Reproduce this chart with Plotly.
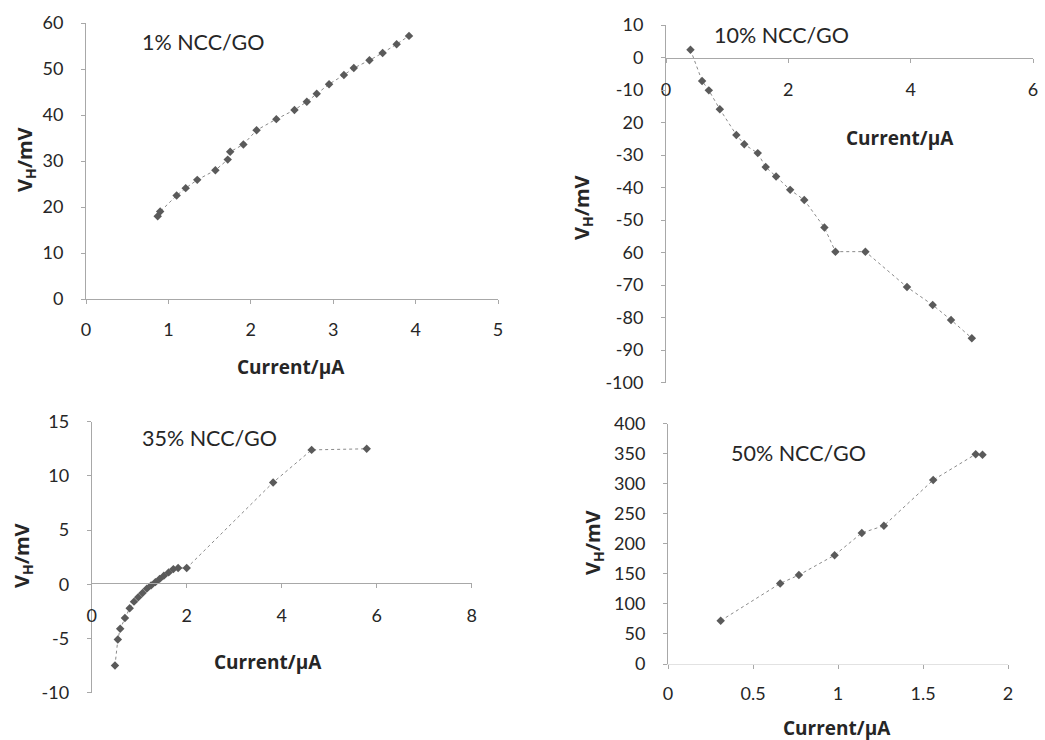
import plotly.graph_objects as go

W, H = 1045, 740

# ---- data ----
cur_1 = [0.87, 0.90, 1.10, 1.21, 1.35, 1.57, 1.72, 1.75, 1.91, 2.07, 2.31, 2.53, 2.68, 2.80, 2.95, 3.13, 3.25, 3.44, 3.60, 3.77, 3.92]
vh_1 = [18.0, 19.0, 22.5, 24.1, 25.9, 28.0, 30.3, 32.0, 33.6, 36.7, 39.1, 41.1, 42.9, 44.6, 46.7, 48.7, 50.2, 51.9, 53.5, 55.4, 57.2]

cur_10 = [0.40, 0.59, 0.70, 0.88, 1.15, 1.28, 1.50, 1.63, 1.80, 2.03, 2.26, 2.59, 2.77, 3.26, 3.94, 4.36, 4.66, 5.00]
vh_10 = [2.4, -7.2, -10.1, -15.9, -23.8, -26.7, -29.4, -33.7, -36.6, -40.7, -43.8, -52.3, -59.7, -59.7, -70.6, -76.1, -80.7, -86.3]

cur_35 = [0.49, 0.55, 0.60, 0.70, 0.80, 0.89, 0.98, 1.07, 1.16, 1.25, 1.34, 1.43, 1.52, 1.62, 1.72, 1.82, 2.00, 3.82, 4.63, 5.79]
vh_35 = [-7.5, -5.1, -4.1, -3.1, -2.2, -1.6, -1.2, -0.8, -0.4, -0.1, 0.2, 0.5, 0.8, 1.1, 1.4, 1.5, 1.5, 9.4, 12.4, 12.5]

cur_50 = [0.31, 0.66, 0.77, 0.98, 1.14, 1.27, 1.56, 1.81, 1.85]
vh_50 = [72, 134, 148, 181, 218, 230, 306, 349, 348]

labels = ["1% NCC/GO", "10% NCC/GO", "35% NCC/GO", "50% NCC/GO"]

x1_ticks = [0, 1, 2, 3, 4, 5]
y1_ticks = [0, 10, 20, 30, 40, 50, 60]
x2_ticks = [0, 2, 4, 6]
y2_ticks = [10, 0, -10, -20, -30, -40, -50, -60, -70, -80, -90, -100]
y2_text = ["10", "0", "-10", "20", "-30", "-40", "-50", "60", "-70", "-80", "-90", "-100"]
x3_ticks = [0, 2, 4, 6, 8]
y3_ticks = [15, 10, 5, 0, -5, -10]
x4_ticks = [0, 0.5, 1, 1.5, 2]
y4_ticks = [0, 50, 100, 150, 200, 250, 300, 350, 400]

x_title = "<b>Current/μA</b>"
y_title = "<b>V<sub>H</sub>/mV</b>"

FONT = "Lato"
TFONT = "Open Sans"
TXT = "#262626"

def px(x):
    return x / W

def py(y):
    return 1 - y / H

fig = go.Figure()

series = [(cur_1, vh_1), (cur_10, vh_10), (cur_35, vh_35), (cur_50, vh_50)]
for i, (xs, ys) in enumerate(series):
    sfx = "" if i == 0 else str(i + 1)
    fig.add_trace(go.Scatter(
        x=xs, y=ys, mode="lines+markers",
        xaxis="x" + sfx, yaxis="y" + sfx,
        line=dict(color="#8a8a8a", width=1, dash="dot"),
        marker=dict(symbol="diamond", size=6.5, color="#5a5a5a"),
        showlegend=False,
    ))

axcommon = dict(
    showgrid=False, zeroline=False, showline=True, linecolor="#a8a8a8", linewidth=1,
    ticks="outside", ticklen=4, tickcolor="#a8a8a8", automargin=False,
    tickfont=dict(family=FONT, size=18, color=TXT),
)

def xa(domain, rng, tickvals, anchor, position=None, standoff=12, linecolor="#a8a8a8"):
    d = dict(axcommon, domain=domain, range=rng, tickvals=tickvals,
             ticktext=[str(t) for t in tickvals], ticklabelstandoff=standoff,
             linecolor=linecolor)
    if position is not None:
        d["anchor"] = "free"
        d["position"] = position
    else:
        d["anchor"] = anchor
    return d

def ya(domain, rng, tickvals, anchor, ticktext=None, standoff=14):
    return dict(axcommon, domain=domain, range=rng, tickvals=tickvals,
                ticktext=ticktext if ticktext else [str(t) for t in tickvals],
                anchor=anchor, ticklabelstandoff=standoff)

fig.update_layout(
    width=W, height=H, margin=dict(l=0, r=0, t=0, b=0, autoexpand=False),
    paper_bgcolor="white", plot_bgcolor="white", showlegend=False,
    xaxis=xa([px(86), px(498)], [0, 5], x1_ticks, "y", standoff=10),
    yaxis=ya([py(299), py(23)], [0, 60], y1_ticks, "x"),
    xaxis2=xa([px(666), px(1033)], [0, 6], x2_ticks, "y2", position=py(57.7), standoff=12),
    yaxis2=ya([py(382.7), py(25)], [-100, 10], y2_ticks, "x2", ticktext=y2_text),
    xaxis3=xa([px(91.7), px(471.7)], [0, 8], x3_ticks, "y3", position=py(583), standoff=12),
    yaxis3=ya([py(692.7), py(421.7)], [-10, 15], y3_ticks, "x3"),
    xaxis4=xa([px(668), px(1008)], [0, 2], x4_ticks, "y4", standoff=9, linecolor="#e2e2e2"),
    yaxis4=ya([py(664), py(423.5)], [0, 400], y4_ticks, "x4"),
)

ann = []
# panel labels
for (cx, cy), t in zip([(203, 42), (781, 35), (209, 438), (798, 453)], labels):
    ann.append(dict(x=px(cx), y=py(cy), xref="paper", yref="paper", text=t, showarrow=False,
                    font=dict(family=FONT, size=21.5, color=TXT), xanchor="center", yanchor="middle"))
# x titles
for cx, cy in [(291, 367), (900, 138), (268, 662), (837, 728)]:
    ann.append(dict(x=px(cx), y=py(cy), xref="paper", yref="paper", text=x_title, showarrow=False,
                    font=dict(family=TFONT, size=19, color=TXT), xanchor="center", yanchor="middle"))
# y titles
for cx, cy in [(25, 160), (582, 208), (22, 556), (593, 543)]:
    ann.append(dict(x=px(cx), y=py(cy), xref="paper", yref="paper", text=y_title, showarrow=False,
                    textangle=-90, font=dict(family=TFONT, size=20, color=TXT),
                    xanchor="center", yanchor="middle"))
fig.update_layout(annotations=ann)

fig.write_html("out.html", config={"displayModeBar": False},
               post_script="document.body.style.margin='0';document.body.style.overflow='hidden';")
